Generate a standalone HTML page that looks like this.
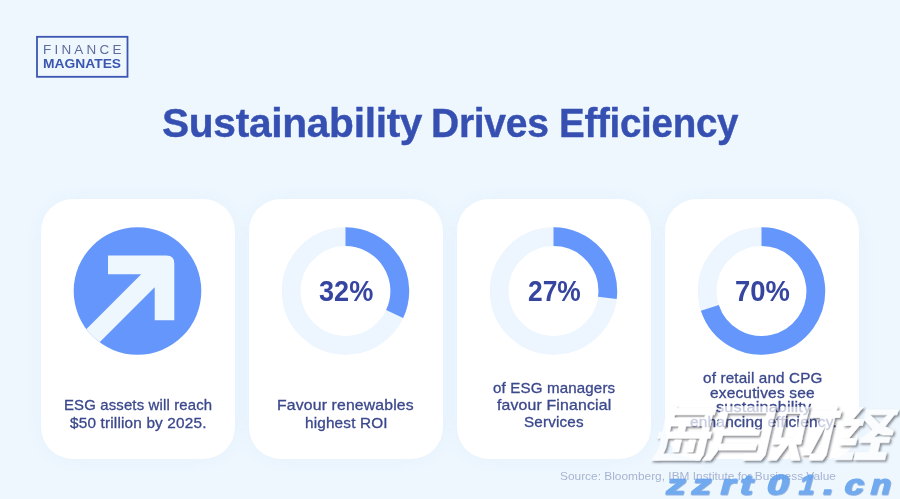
<!DOCTYPE html>
<html><head><meta charset="utf-8">
<style>
html,body{margin:0;padding:0;}
body{width:900px;height:499px;overflow:hidden;position:relative;background:#eff7fe;font-family:"Liberation Sans",sans-serif;}
.abs{position:absolute;}
.tx{position:absolute;white-space:nowrap;transform-origin:0 0;}
.card{position:absolute;top:199.4px;width:194.5px;height:259.4px;border-radius:32px;background:#fff;box-shadow:0 0 20px rgba(165,210,245,0.14);}
</style></head><body>
<div class="card" style="left:40.5px"></div>
<div class="card" style="left:248.5px"></div>
<div class="card" style="left:456.5px"></div>
<div class="card" style="left:664.5px"></div>
<svg class="abs" style="left:0;top:0" width="900" height="499" viewBox="0 0 900 499">
  <defs><clipPath id="cp1"><circle cx="137.5" cy="291" r="63.8"/></clipPath></defs>
  <rect x="37" y="36.8" width="90.5" height="40" fill="none" stroke="#3b55b0" stroke-width="1.8"/>
  <circle cx="137.5" cy="291" r="63.8" fill="#6496fc"/>
  <g clip-path="url(#cp1)" fill="#eff7fe">
    <path d="M108 255.6 H166.5 Q174.3 255.6 174.3 263.5 V320.3 H154.7 V287.2 L54.7 387.2 L41.2 374.2 L141.2 274.2 H108 Z"/>
  </g>
  <g fill="none" stroke-width="18.8">
    <circle cx="345.5" cy="291" r="54.3" stroke="#edf5fe"/>
    <circle cx="553.5" cy="291" r="54.3" stroke="#edf5fe"/>
    <circle cx="761.5" cy="291" r="54.3" stroke="#edf5fe"/>
  </g>
  <g fill="none" stroke-width="18.8" stroke="#6496fc">
    <path d="M345.50 236.70 A54.3 54.3 0 0 1 394.63 314.12"/>
    <path d="M553.50 236.70 A54.3 54.3 0 0 1 607.37 297.81"/>
    <path d="M761.50 236.70 A54.3 54.3 0 1 1 709.86 307.78"/>
  </g>
</svg>

<div class="tx" style="left:162.38px;top:101.00px;font-size:40px;line-height:44px;font-weight:bold;color:#3650b2;letter-spacing:-0.3px;-webkit-text-stroke:0.4px #3650b2;transform:scaleX(1.0169);">Sustainability</div>
<div class="tx" style="left:431.35px;top:101.00px;font-size:40px;line-height:44px;font-weight:bold;color:#3650b2;letter-spacing:-0.3px;-webkit-text-stroke:0.4px #3650b2;transform:scaleX(0.9754);">Drives</div>
<div class="tx" style="left:558.97px;top:101.00px;font-size:40px;line-height:44px;font-weight:bold;color:#3650b2;letter-spacing:-0.3px;-webkit-text-stroke:0.4px #3650b2;transform:scaleX(0.9636);">Efficiency</div>
<div class="tx" style="left:43.03px;top:43.00px;font-size:12.6px;line-height:14px;font-weight:normal;color:#5d6c9c;letter-spacing:3.0px;transform:scaleX(1.0694);">FINANCE</div>
<div class="tx" style="left:43.32px;top:56.00px;font-size:12.8px;line-height:15px;font-weight:bold;color:#3b55b0;letter-spacing:0px;transform:scaleX(1.0803);">MAGNATES</div>
<div class="tx" style="left:319.01px;top:274.00px;font-size:30.3px;line-height:33px;font-weight:bold;color:#3645a0;letter-spacing:0px;transform:scaleX(0.8949);">32%</div>
<div class="tx" style="left:527.93px;top:274.00px;font-size:30.3px;line-height:33px;font-weight:bold;color:#3645a0;letter-spacing:0px;transform:scaleX(0.8712);">27%</div>
<div class="tx" style="left:734.79px;top:274.00px;font-size:30.3px;line-height:33px;font-weight:bold;color:#3645a0;letter-spacing:0px;transform:scaleX(0.9051);">70%</div>
<div class="tx" style="left:63.56px;top:397.00px;font-size:14.3px;line-height:16px;font-weight:normal;color:#3b488c;letter-spacing:0.15px;-webkit-text-stroke:0.3px #3b488c;transform:scaleX(1.0426);">ESG assets will reach</div>
<div class="tx" style="left:69.60px;top:415.00px;font-size:14.3px;line-height:16px;font-weight:normal;color:#3b488c;letter-spacing:0.15px;-webkit-text-stroke:0.3px #3b488c;transform:scaleX(1.0746);">$50 trillion by 2025.</div>
<div class="tx" style="left:277.30px;top:397.00px;font-size:14.3px;line-height:16px;font-weight:normal;color:#3b488c;letter-spacing:0.15px;-webkit-text-stroke:0.3px #3b488c;transform:scaleX(1.1024);">Favour renewables</div>
<div class="tx" style="left:304.93px;top:415.00px;font-size:14.3px;line-height:16px;font-weight:normal;color:#3b488c;letter-spacing:0.15px;-webkit-text-stroke:0.3px #3b488c;transform:scaleX(1.0720);">highest ROI</div>
<div class="tx" style="left:493.00px;top:380.00px;font-size:14.3px;line-height:16px;font-weight:normal;color:#3b488c;letter-spacing:0.15px;-webkit-text-stroke:0.3px #3b488c;transform:scaleX(1.0552);">of ESG managers</div>
<div class="tx" style="left:497.00px;top:397.00px;font-size:14.3px;line-height:16px;font-weight:normal;color:#3b488c;letter-spacing:0.15px;-webkit-text-stroke:0.3px #3b488c;transform:scaleX(1.1068);">favour Financial</div>
<div class="tx" style="left:523.93px;top:414.00px;font-size:14.3px;line-height:16px;font-weight:normal;color:#3b488c;letter-spacing:0.15px;-webkit-text-stroke:0.3px #3b488c;transform:scaleX(1.0655);">Services</div>
<div class="tx" style="left:703.00px;top:370.00px;font-size:14.3px;line-height:16px;font-weight:normal;color:#3b488c;letter-spacing:0.15px;-webkit-text-stroke:0.3px #3b488c;transform:scaleX(1.0661);">of retail and CPG</div>
<div class="tx" style="left:710.40px;top:385.00px;font-size:14.3px;line-height:16px;font-weight:normal;color:#3b488c;letter-spacing:0.15px;-webkit-text-stroke:0.3px #3b488c;transform:scaleX(1.0833);">executives see</div>
<div class="tx" style="left:715.60px;top:399.00px;font-size:14.3px;line-height:16px;font-weight:normal;color:#3b488c;letter-spacing:0.15px;-webkit-text-stroke:0.3px #3b488c;transform:scaleX(1.1357);">sustainability</div>
<div class="tx" style="left:689.60px;top:414.00px;font-size:14.3px;line-height:16px;font-weight:normal;color:#3b488c;letter-spacing:0.15px;-webkit-text-stroke:0.3px #3b488c;transform:scaleX(1.0851);">enhancing efficiency.</div>
<div class="tx" style="left:559.76px;top:470.00px;font-size:11.4px;line-height:12px;font-weight:normal;color:#a6b4d2;letter-spacing:0px;transform:scaleX(1.0433);">Source: Bloomberg, IBM Institute for Business Value</div>
<svg class="abs" style="left:0;top:0" width="900" height="499" viewBox="0 0 900 499">
<defs><filter id="sh" x="-5%" y="-10%" width="110%" height="120%"><feDropShadow dx="1.6" dy="1.7" stdDeviation="1.1" flood-color="#2a2f3a" flood-opacity="0.8"/></filter>
<filter id="sh2" x="-5%" y="-20%" width="110%" height="140%"><feDropShadow dx="0.8" dy="0.8" stdDeviation="0.6" flood-color="#2f6cc4" flood-opacity="0.7"/></filter></defs>
<g opacity="0.72" filter="url(#sh)"><g fill="#ffffff" stroke="#ffffff" stroke-width="0" stroke-linejoin="miter">
<path stroke-width="0.6" d="M667.9 406.5 L676.7 406.5 L673.4 420.7 L672.1 420.7 L665.8 448.0 L662.7 455.0 L659.5 460.3 L651.0 460.3 L655.2 455.0 L658.8 448.0 Z M674.0 408.3 L716.0 408.3 L714.5 414.7 L672.5 414.7 Z M671.7 418.0 L711.7 418.0 L709.9 426.0 L669.9 426.0 Z M707.0 408.3 L714.0 408.3 L703.2 455.0 L699.5 460.3 L695.0 460.3 Z M659.0 432.0 L711.5 432.0 L710.1 438.2 L657.6 438.2 Z M656.4 454.0 L701.4 454.0 L700.0 460.3 L655.0 460.3 Z M680.4 419.5 L687.4 419.5 L684.4 432.5 L677.4 432.5 Z M674.7 440.0 L681.4 440.0 L678.6 452.0 L671.9 452.0 Z M689.2 440.0 L695.7 440.0 L692.9 452.0 L686.4 452.0 Z M721.9 406.5 L776.4 406.5 L774.9 413.0 L720.4 413.0 Z M721.9 406.5 L729.2 406.5 L721.0 442.0 L716.9 452.0 L710.5 460.3 L702.5 460.3 L709.4 452.0 L713.7 442.0 Z M768.4 406.5 L776.4 406.5 L765.2 455.0 L761.0 460.3 L743.0 460.3 L744.5 453.8 L757.5 453.8 Z M723.1 429.3 L760.1 429.3 L758.8 435.3 L721.8 435.3 Z M719.7 444.0 L756.7 444.0 L755.4 450.0 L718.4 450.0 Z M780.8 407.0 L809.3 407.0 L807.8 413.5 L779.3 413.5 Z M780.8 407.0 L787.8 407.0 L779.2 444.0 L772.2 444.0 Z M802.3 407.0 L809.3 407.0 L800.7 444.0 L793.7 444.0 Z M773.6 438.0 L802.1 438.0 L800.7 444.0 L772.2 444.0 Z M780.7 444.0 L788.7 444.0 L776.5 460.3 L767.5 460.3 Z M788.7 444.0 L795.7 444.0 L800.0 460.3 L791.0 460.3 Z M812.3 411.0 L841.3 411.0 L839.8 417.5 L810.8 417.5 Z M830.4 406.5 L837.4 406.5 L826.2 455.0 L822.5 460.3 L809.0 460.3 L810.4 454.0 L819.4 454.0 Z M820.8 417.5 L827.8 417.5 L826.3 424.0 L809.7 455.0 L801.7 455.0 L818.3 424.0 Z M857.0 407.0 L863.5 407.0 L851.5 421.0 L845.0 421.0 Z M845.0 419.5 L864.0 419.5 L862.5 425.5 L843.5 425.5 Z M857.5 419.5 L864.5 419.5 L849.0 438.0 L842.0 438.0 Z M841.0 438.5 L857.0 438.5 L855.5 445.0 L839.5 445.0 Z M836.0 452.3 L853.5 452.3 L851.8 459.7 L834.3 459.7 Z M866.5 409.6 L898.5 409.6 L897.0 414.8 L865.0 414.8 Z M888.3 414.0 L898.5 409.6 L885.5 426.0 L874.0 437.2 L863.0 437.2 L879.3 424.4 Z M865.0 414.8 L870.0 414.8 L880.0 424.4 L893.5 430.5 L892.3 435.0 L883.0 435.0 L874.0 431.0 L864.0 419.5 Z M860.5 437.2 L890.0 437.2 L888.8 442.6 L859.3 442.6 Z M871.5 442.0 L880.0 442.0 L877.6 452.6 L869.0 452.6 Z M855.5 452.3 L886.5 452.3 L884.8 459.7 L853.8 459.7 Z"/>
</g></g>
<g filter="url(#sh2)" opacity="0.85" font-family="Liberation Sans, sans-serif" font-weight="bold" font-size="27.6" fill="#5c9ded" stroke="#5c9ded" stroke-width="1.2">
<text transform="translate(664.4 494.0) skewX(-15) scale(1.38 1)" x="0" y="0">z</text>
<text transform="translate(690.0 494.0) skewX(-15) scale(1.38 1)" x="0" y="0">z</text>
<text transform="translate(718.5 494.0) skewX(-15) scale(1.38 1)" x="0" y="0">r</text>
<text transform="translate(738.0 494.0) skewX(-15) scale(1.38 1)" x="0" y="0">t</text>
<text transform="translate(765.0 494.0) skewX(-15) scale(1.42 1)" x="0" y="0">0</text>
<text transform="translate(797.2 494.0) skewX(-15) scale(1.0 1)" x="0" y="0">1</text>
<text transform="translate(821.2 494.0) skewX(-15) scale(1.4 1)" x="0" y="0">.</text>
<text transform="translate(842.5 494.0) skewX(-15) scale(1.25 1)" x="0" y="0">c</text>
<text transform="translate(868.7 494.0) skewX(-15) scale(1.2 1)" x="0" y="0">n</text>
</g>
</svg>
</body></html>
